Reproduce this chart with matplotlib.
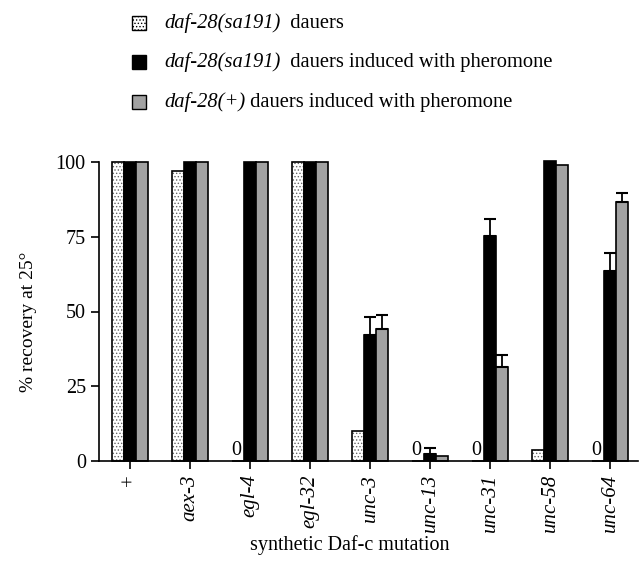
import matplotlib
matplotlib.use("Agg")
import matplotlib.pyplot as plt
from matplotlib.patches import Rectangle
import numpy as np

plt.rcParams['font.family'] = ['Liberation Serif', 'DejaVu Serif']
plt.rcParams['hatch.linewidth'] = 0.6

# data
mutations = ["+", "aex-3", "egl-4", "egl-32", "unc-3", "unc-13", "unc-31", "unc-58", "unc-64"]
dauers = [100, 97, 0, 100, 10, 0, 0, 3.7, 0]
pher_sa191 = [100, 100, 100, 100, 42, 2.5, 75.4, 100.5, 63.5]
pher_wt = [100, 100, 100, 100, 44, 1.7, 31.3, 99, 86.5]
err_sa191 = [0, 0, 0, 0, 6, 1.8, 5.4, 0, 6]
err_wt = [0, 0, 0, 0, 4.7, 0, 4, 0, 3]

legend_labels = [("daf-28(sa191)", "  dauers"),
                 ("daf-28(sa191)", "  dauers induced with pheromone"),
                 ("daf-28(+)", " dauers induced with pheromone")]

grey = '#a2a2a2'
w = 0.205
x = np.arange(len(mutations))

fig = plt.figure(figsize=(6.4, 5.79), dpi=100)
ax = fig.add_axes([99/640, 1-461/579, 539/640, 299/579])

# dotted bars: stipple then outline
ax.bar(x - w, dauers, w, color='white', edgecolor='#666666', hatch='.....', lw=0, clip_on=False)
ax.bar(x - w, dauers, w, fill=False, edgecolor='black', lw=1.2, clip_on=False)
ax.bar(x, pher_sa191, w, color='black', edgecolor='black', lw=1.2, clip_on=False)
ax.bar(x + w, pher_wt, w, color=grey, edgecolor='black', lw=1.2, clip_on=False)

# one-sided error bars
for xs, vals, errs in [(x, pher_sa191, err_sa191), (x + w, pher_wt, err_wt)]:
    for xi, v, e in zip(xs, vals, errs):
        if e > 0:
            ax.errorbar(xi, v, yerr=[[0], [e]], fmt='none', ecolor='black',
                        elinewidth=1.3, capsize=4, capthick=1.5, clip_on=False)

# zero labels
for xi, v in zip(x, dauers):
    if v == 0:
        ax.text(xi - w - 0.02, 0.3, "0", ha='center', va='bottom', fontsize=14.5)

ax.set_xlim(-0.517, 8.467)
ax.set_ylim(0, 100)
ax.set_yticks([0, 25, 50, 75, 100])
ax.tick_params(axis='both', direction='out', length=6, width=1.2)
ax.tick_params(axis='y', labelsize=14.5)
ax.tick_params(axis='x', labelsize=15)
ax.set_xticks(x)
ax.set_xticklabels(mutations, rotation=90, va='top', ha='center')
for lab in ax.get_xticklabels():
    if lab.get_text() != "+":
        lab.set_fontstyle('italic')
for s in ['top', 'right']:
    ax.spines[s].set_visible(False)
for s in ['left', 'bottom']:
    ax.spines[s].set_linewidth(1.2)

ax.set_ylabel("% recovery at 25°", fontsize=14)
ax.yaxis.set_label_coords(-0.115, 0.465)
fig.text(350/640, 1-545/579, "synthetic Daf-c mutation", ha='center', va='center', fontsize=14.5)

# legend drawn by hand (mixed italic / roman text)
rows_y = [23, 62, 102]
faces = [('white', '.....'), ('black', None), (grey, None)]
fig.canvas.draw()
renderer = fig.canvas.get_renderer()
for (lab_it, lab_rm), yy, (fc, ht) in zip(legend_labels, rows_y, faces):
    yf = 1 - yy/579
    sq = Rectangle((132/640, yf - 7/579), 14/640, 14/579, transform=fig.transFigure,
                   facecolor=fc, edgecolor='black', lw=1, hatch=ht)
    fig.add_artist(sq)
    t = fig.text(164/640, yf, lab_it, fontstyle='italic', fontsize=14.8, va='center')
    bb = t.get_window_extent(renderer)
    fig.text(bb.x1/640, yf, lab_rm, fontsize=14.8, va='center')

fig.savefig("out.png", dpi=100)
